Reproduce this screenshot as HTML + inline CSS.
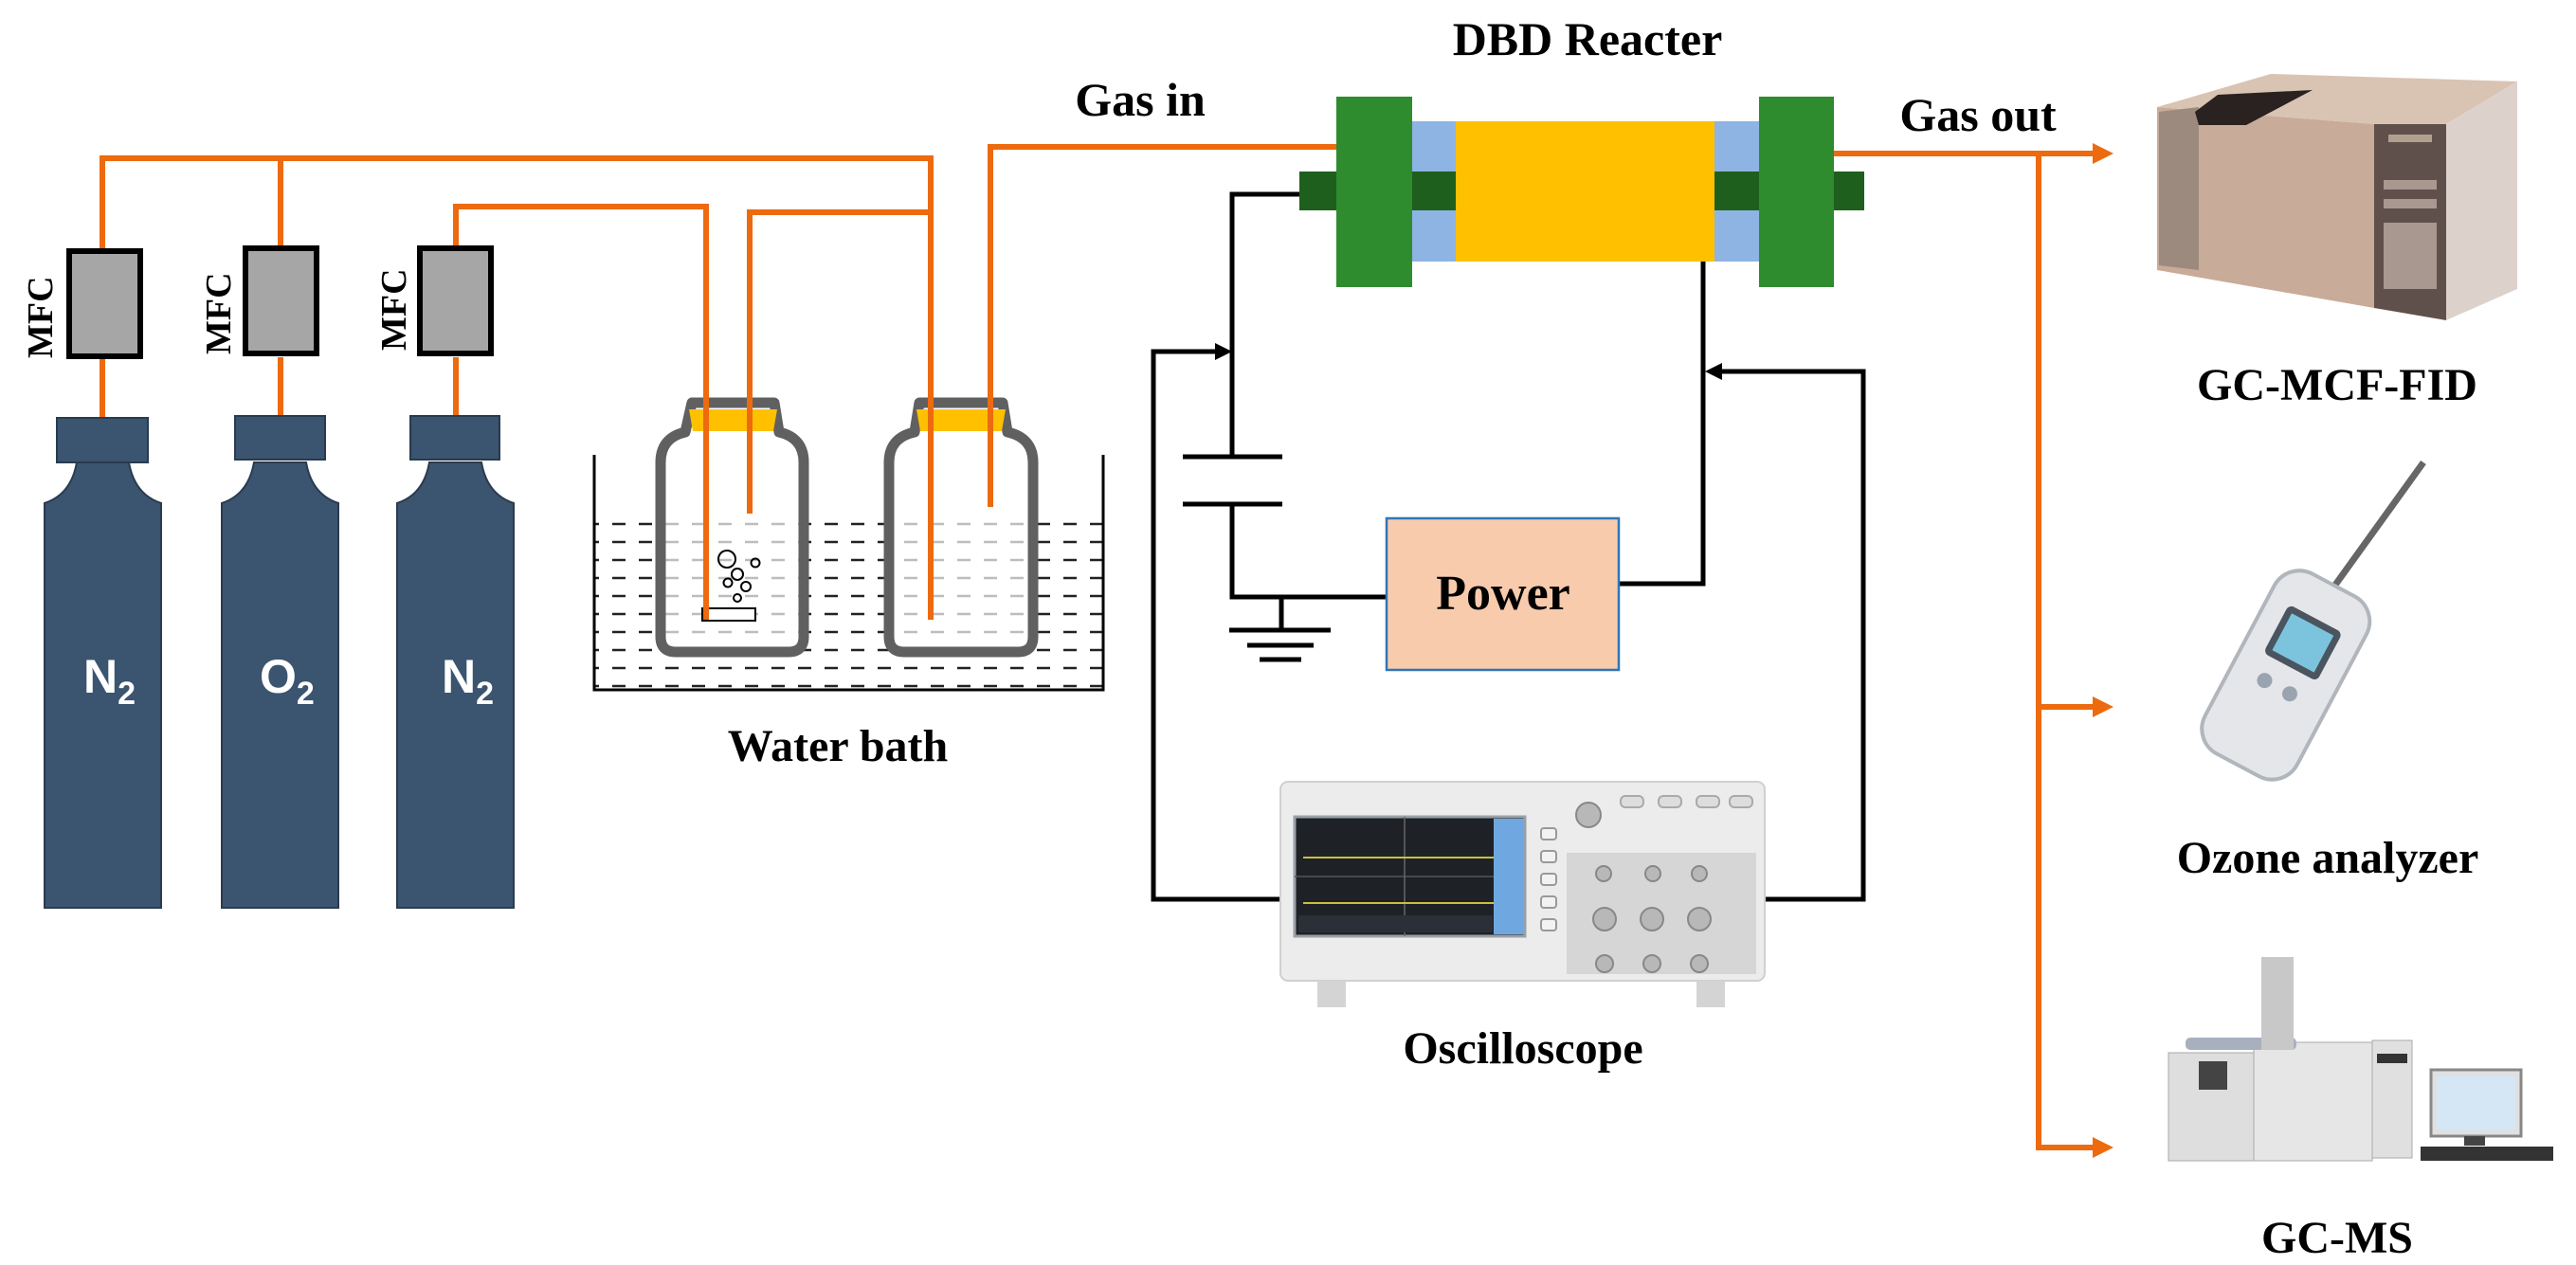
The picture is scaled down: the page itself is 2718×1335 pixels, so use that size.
<!DOCTYPE html>
<html><head><meta charset="utf-8"><style>
html,body{margin:0;padding:0;background:#fff}
svg{display:block}
.lab{font-family:"Liberation Serif",serif;font-weight:bold;fill:#000}
</style></head><body>
<svg width="2718" height="1335" viewBox="0 0 2718 1335" xmlns="http://www.w3.org/2000/svg">
<defs>
<pattern id="water" x="0" y="544" width="28" height="19" patternUnits="userSpaceOnUse">
<line x1="2" y1="9" x2="16" y2="9" stroke="#222" stroke-width="2.5"/>
</pattern>
</defs>

<!-- Water bath -->
<rect x="627" y="544" width="537" height="184" fill="url(#water)"/>
<polyline points="627,480 627,728 1164,728 1164,480" fill="none" stroke="#000" stroke-width="3"/>

<!-- Bottles -->
<g fill="rgba(255,255,255,0.7)" stroke="#606060" stroke-width="11" stroke-linejoin="round">
<path d="M730,425 L817,425 L822,456 Q848,462 848,488 L848,672 Q848,688 832,688 L713,688 Q697,688 697,672 L697,488 Q697,462 723,456 Z"/>
<path d="M970,425 L1058,425 L1063,456 Q1090,462 1090,488 L1090,672 Q1090,688 1074,688 L954,688 Q938,688 938,672 L938,488 Q938,462 965,456 Z"/>
</g>
<polygon points="727,432 820,432 816,455 731,455" fill="#ffc000"/>
<polygon points="967,432 1061,432 1057,455 971,455" fill="#ffc000"/>
<rect x="741" y="642" width="56" height="13" fill="#fff" stroke="#000" stroke-width="2"/>
<g fill="none" stroke="#000" stroke-width="2">
<circle cx="767" cy="590" r="9"/><circle cx="778" cy="606" r="6"/><circle cx="797" cy="594" r="4.5"/>
<circle cx="768" cy="615" r="4.5"/><circle cx="787" cy="619" r="5"/><circle cx="778" cy="631" r="4"/>
</g>

<!-- Orange gas lines -->
<g fill="none" stroke="#ed6a0f" stroke-width="6">
<polyline points="108,262 108,167 982,167 982,654"/>
<line x1="296" y1="167" x2="296" y2="262"/>
<polyline points="481,262 481,218 745,218 745,654"/>
<polyline points="791,542 791,224 982,224"/>
<polyline points="1045,535 1045,155 1410,155"/>
<line x1="108" y1="377" x2="108" y2="441"/>
<line x1="296" y1="377" x2="296" y2="441"/>
<line x1="481" y1="377" x2="481" y2="441"/>
<polyline points="1935,162 2215,162"/>
<polyline points="2151,162 2151,1211 2215,1211"/>
<line x1="2151" y1="746" x2="2215" y2="746"/>
</g>
<g fill="#ed6a0f">
<polygon points="2230,162 2208,151 2208,173"/>
<polygon points="2230,746 2208,735 2208,757"/>
<polygon points="2230,1211 2208,1200 2208,1222"/>
</g>

<!-- Cylinders -->
<g fill="#3b5470" stroke="#2a3b4e" stroke-width="2">
<path d="M47,531 L47,958 L170,958 L170,531 Q142,522 136,488 L81,488 Q75,522 47,531 Z"/>
<path d="M234,531 L234,958 L357,958 L357,531 Q329,522 323,488 L268,488 Q262,522 234,531 Z"/>
<path d="M419,531 L419,958 L542,958 L542,531 Q514,522 508,488 L453,488 Q447,522 419,531 Z"/>
<rect x="60" y="441" width="96" height="47"/>
<rect x="248" y="439" width="95" height="46"/>
<rect x="433" y="439" width="94" height="46"/>
</g>
<g font-family="Liberation Sans,sans-serif" font-weight="bold" fill="#fff" font-size="50">
<text x="88" y="731">N<tspan font-size="34" dy="12">2</tspan></text>
<text x="274" y="731">O<tspan font-size="34" dy="12">2</tspan></text>
<text x="466" y="731">N<tspan font-size="34" dy="12">2</tspan></text>
</g>

<!-- MFCs -->
<g fill="#a6a6a6" stroke="#000" stroke-width="6">
<rect x="73" y="265" width="75" height="111"/>
<rect x="259" y="262" width="75" height="111"/>
<rect x="443" y="262" width="75" height="111"/>
</g>
<g class="lab" font-size="38">
<text transform="translate(55,378) rotate(-90)">MFC</text>
<text transform="translate(243,374) rotate(-90)">MFC</text>
<text transform="translate(428,370) rotate(-90)">MFC</text>
</g>
<text class="lab" x="884" y="803" font-size="48" text-anchor="middle">Water bath</text>
<text class="lab" x="1203" y="122" font-size="50" text-anchor="middle">Gas in</text>

<!-- DBD reactor -->
<rect x="1490" y="128" width="46" height="148" fill="#8db4e2"/>
<rect x="1809" y="128" width="47" height="148" fill="#8db4e2"/>
<rect x="1536" y="128" width="273" height="148" fill="#ffc000"/>
<rect x="1371" y="181" width="165" height="41" fill="#1e5f1e"/>
<rect x="1809" y="181" width="158" height="41" fill="#1e5f1e"/>
<rect x="1410" y="102" width="80" height="201" fill="#2e8b2e"/>
<rect x="1856" y="102" width="79" height="201" fill="#2e8b2e"/>
<rect x="1371" y="181" width="39" height="41" fill="#1e5f1e"/>
<rect x="1935" y="181" width="32" height="41" fill="#1e5f1e"/>
<rect x="1490" y="181" width="46" height="41" fill="#1e5f1e"/>
<rect x="1809" y="181" width="47" height="41" fill="#1e5f1e"/>
<text class="lab" x="1675" y="58" font-size="50" text-anchor="middle">DBD Reacter</text>
<text class="lab" x="2087" y="138" font-size="50" text-anchor="middle">Gas out</text>

<!-- Circuit -->
<g fill="none" stroke="#000" stroke-width="5">
<polyline points="1371,205 1300,205 1300,482"/>
<line x1="1248" y1="482" x2="1353" y2="482"/>
<line x1="1248" y1="532" x2="1353" y2="532"/>
<polyline points="1300,532 1300,630 1462,630"/>
<line x1="1352" y1="630" x2="1352" y2="665"/>
<line x1="1297" y1="665" x2="1404" y2="665"/>
<line x1="1316" y1="681" x2="1386" y2="681"/>
<line x1="1329" y1="696" x2="1373" y2="696"/>
<polyline points="1709,616 1797,616 1797,276"/>
<polyline points="1862,949 1966,949 1966,392 1815,392"/>
<polyline points="1351,949 1217,949 1217,371 1285,371"/>
</g>
<polygon points="1300,371 1282,362 1282,380" fill="#000"/>
<polygon points="1799,392 1817,383 1817,401" fill="#000"/>
<rect x="1463" y="547" width="245" height="160" fill="#f8cbad" stroke="#2e75b6" stroke-width="2.5"/>
<text class="lab" x="1586" y="643" font-size="52" text-anchor="middle">Power</text>

<!-- Oscilloscope -->
<rect x="1351" y="825" width="511" height="210" rx="8" fill="#ececec" stroke="#d0d0d0" stroke-width="2"/>
<rect x="1366" y="862" width="243" height="126" fill="#1e2226" stroke="#9aa0a8" stroke-width="3"/>
<line x1="1366" y1="925" x2="1576" y2="925" stroke="#555" stroke-width="1.5"/>
<line x1="1482" y1="862" x2="1482" y2="988" stroke="#666" stroke-width="1.5"/>
<line x1="1375" y1="905" x2="1576" y2="905" stroke="#c8c040" stroke-width="2"/>
<line x1="1375" y1="953" x2="1576" y2="953" stroke="#c8c040" stroke-width="2"/>
<rect x="1576" y="864" width="32" height="122" fill="#6fa8e0"/>
<rect x="1370" y="966" width="205" height="18" fill="#2a2f38"/>
<rect x="1653" y="900" width="200" height="128" fill="#d6d6d6"/>
<g fill="#f2f2f2" stroke="#999" stroke-width="2">
<rect x="1626" y="874" width="16" height="12" rx="3"/><rect x="1626" y="898" width="16" height="12" rx="3"/><rect x="1626" y="922" width="16" height="12" rx="3"/><rect x="1626" y="946" width="16" height="12" rx="3"/><rect x="1626" y="970" width="16" height="12" rx="3"/>
</g>
<g fill="#b8b8b8" stroke="#888" stroke-width="2">
<circle cx="1676" cy="860" r="13"/><circle cx="1692" cy="922" r="8"/><circle cx="1744" cy="922" r="8"/><circle cx="1793" cy="922" r="8"/>
<circle cx="1693" cy="970" r="12"/><circle cx="1743" cy="970" r="12"/><circle cx="1793" cy="970" r="12"/>
<circle cx="1693" cy="1017" r="9"/><circle cx="1743" cy="1017" r="9"/><circle cx="1793" cy="1017" r="9"/>
</g>
<g fill="#ddd" stroke="#aaa" stroke-width="2"><rect x="1710" y="840" width="24" height="12" rx="5"/><rect x="1750" y="840" width="24" height="12" rx="5"/><rect x="1790" y="840" width="24" height="12" rx="5"/><rect x="1825" y="840" width="24" height="12" rx="5"/></g>
<rect x="1390" y="1035" width="30" height="28" fill="#d4d4d4"/>
<rect x="1790" y="1035" width="30" height="28" fill="#d4d4d4"/>
<text class="lab" x="1607" y="1122" font-size="48" text-anchor="middle">Oscilloscope</text>

<!-- GC-MCF-FID -->
<polygon points="2276,113 2505,131 2505,325 2276,285" fill="#c8ab98"/>
<polygon points="2276,113 2396,78 2656,86 2581,131 2505,131" fill="#d9c3b3"/>
<polygon points="2505,131 2581,131 2581,338 2505,325" fill="#5f504b"/>
<polygon points="2581,131 2656,86 2656,305 2581,338" fill="#ddd2cb"/>
<polygon points="2278,118 2320,113 2320,285 2278,280" fill="#9d8a7e"/>
<polygon points="2316,118 2340,100 2440,95 2370,132 2320,132" fill="#2a2220"/>
<rect x="2520" y="142" width="46" height="8" fill="#b0a090"/>
<g fill="#a89890"><rect x="2515" y="190" width="56" height="10"/><rect x="2515" y="210" width="56" height="10"/><rect x="2515" y="235" width="56" height="70"/></g>
<text class="lab" x="2466" y="422" font-size="48" text-anchor="middle">GC-MCF-FID</text>

<!-- Ozone analyzer -->
<line x1="2557" y1="488" x2="2462" y2="620" stroke="#666" stroke-width="7"/>
<g transform="rotate(28 2412 712)">
<rect x="2357" y="605" width="110" height="215" rx="30" fill="#e4e6e9" stroke="#b0b6bc" stroke-width="4"/>
<rect x="2380" y="645" width="64" height="58" rx="6" fill="#4a5560"/>
<rect x="2387" y="652" width="50" height="44" fill="#7cc4de"/>
<circle cx="2395" cy="728" r="8" fill="#9aa4b0"/><circle cx="2425" cy="728" r="8" fill="#9aa4b0"/>
</g>
<text class="lab" x="2456" y="921" font-size="48" text-anchor="middle">Ozone analyzer</text>

<!-- GC-MS -->
<rect x="2288" y="1111" width="92" height="114" fill="#dedede" stroke="#aaa"/>
<rect x="2320" y="1120" width="30" height="30" fill="#444"/>
<rect x="2378" y="1100" width="125" height="125" fill="#e6e6e6" stroke="#aaa"/>
<rect x="2306" y="1095" width="117" height="13" rx="5" fill="#a8b0c0"/>
<rect x="2386" y="1010" width="34" height="98" fill="#c8c8c8"/>
<rect x="2503" y="1098" width="42" height="124" fill="#e0e0e0" stroke="#aaa"/>
<rect x="2508" y="1112" width="32" height="10" fill="#333"/>
<rect x="2565" y="1129" width="95" height="70" fill="#e0e0e0" stroke="#888" stroke-width="3"/>
<rect x="2571" y="1135" width="83" height="58" fill="#d5e6f5"/>
<rect x="2600" y="1199" width="22" height="10" fill="#444"/>
<rect x="2554" y="1210" width="140" height="15" fill="#333"/>
<text class="lab" x="2466" y="1322" font-size="48" text-anchor="middle">GC-MS</text>
</svg>
</body></html>
